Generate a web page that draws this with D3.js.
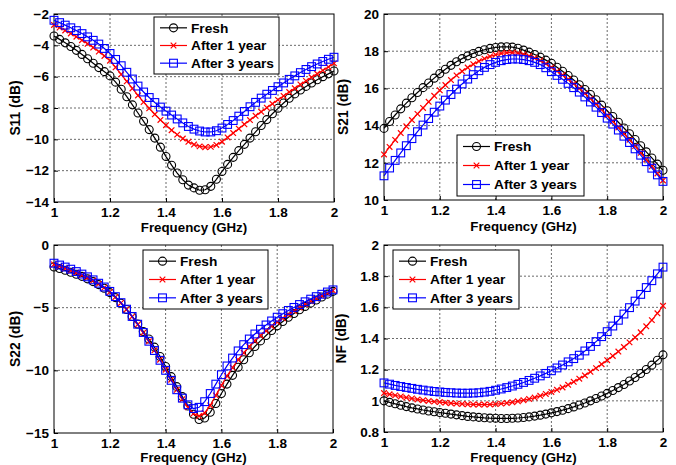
<!DOCTYPE html>
<html>
<head>
<meta charset="utf-8">
<script src="https://cdn.jsdelivr.net/npm/d3@7"></script>
<style>
	body { margin: 0; background: #fff; }
	text { font-family: "Liberation Sans", Arial, sans-serif; font-weight: bold; fill: #000; }
</style>
</head>
<body>
<svg id="fig" width="676" height="465"></svg>
<script>
const freq = [1.00, 1.02, 1.04, 1.06, 1.08, 1.10, 1.12, 1.14, 1.16, 1.18, 1.20, 1.22, 1.24, 1.26, 1.28, 1.30, 1.32, 1.34, 1.36, 1.38,
	1.40, 1.42, 1.44, 1.46, 1.48, 1.50, 1.52, 1.54, 1.56, 1.58, 1.60, 1.62, 1.64, 1.66, 1.68, 1.70, 1.72, 1.74, 1.76, 1.78,
	1.80, 1.82, 1.84, 1.86, 1.88, 1.90, 1.92, 1.94, 1.96, 1.98, 2.00];
const seriesNames = ["Fresh", "After 1 year", "After 3 years"];
const xTicks = [1, 1.2, 1.4, 1.6, 1.8, 2];

// S11 (dB)
const s11Fresh = [-3.40, -3.62, -3.84, -4.07, -4.32, -4.58, -4.86, -5.14, -5.42, -5.68, -5.95, -6.35, -6.80, -7.28, -7.80, -8.32, -8.85, -9.38, -9.92, -10.50,
	-11.10, -11.65, -12.15, -12.58, -12.92, -13.10, -13.25, -13.22, -13.00, -12.55, -12.05, -11.60, -11.15, -10.72, -10.32, -9.92, -9.52, -9.12, -8.74, -8.37,
	-8.02, -7.68, -7.38, -7.10, -6.85, -6.62, -6.40, -6.20, -6.00, -5.82, -5.64];
const s11Year1 = [-2.70, -2.87, -3.05, -3.24, -3.45, -3.67, -3.90, -4.14, -4.40, -4.68, -4.98, -5.40, -5.85, -6.30, -6.75, -7.20, -7.62, -8.02, -8.40, -8.76,
	-9.10, -9.42, -9.70, -9.95, -10.16, -10.33, -10.45, -10.50, -10.48, -10.36, -10.15, -9.88, -9.60, -9.32, -9.04, -8.77, -8.50, -8.24, -7.98, -7.73,
	-7.48, -7.23, -6.98, -6.74, -6.50, -6.27, -6.04, -5.82, -5.60, -5.38, -5.15];
const s11Year3 = [-2.40, -2.55, -2.71, -2.88, -3.06, -3.25, -3.46, -3.68, -3.92, -4.20, -4.52, -4.90, -5.30, -5.72, -6.15, -6.60, -6.98, -7.33, -7.65, -7.94,
	-8.20, -8.45, -8.70, -8.95, -9.18, -9.35, -9.47, -9.53, -9.53, -9.45, -9.28, -9.05, -8.80, -8.52, -8.22, -7.92, -7.64, -7.37, -7.12, -6.88,
	-6.64, -6.40, -6.17, -5.95, -5.74, -5.54, -5.36, -5.19, -5.03, -4.89, -4.76];
const s11Ticks = [-14, -12, -10, -8, -6, -4, -2];

// S21 (dB)
const s21Fresh = [13.85, 14.22, 14.57, 14.90, 15.21, 15.50, 15.78, 16.04, 16.29, 16.55, 16.80, 17.03, 17.24, 17.43, 17.60, 17.75, 17.88, 17.99, 18.08, 18.15,
	18.20, 18.23, 18.24, 18.22, 18.16, 18.06, 17.95, 17.82, 17.68, 17.52, 17.35, 17.14, 16.92, 16.69, 16.45, 16.20, 15.94, 15.67, 15.39, 15.10,
	14.80, 14.49, 14.18, 13.87, 13.56, 13.25, 12.92, 12.59, 12.26, 11.93, 11.60];
const s21Year1 = [12.45, 12.85, 13.23, 13.60, 13.96, 14.30, 14.63, 14.95, 15.28, 15.60, 15.90, 16.18, 16.45, 16.70, 16.92, 17.12, 17.30, 17.46, 17.60, 17.72,
	17.81, 17.88, 17.92, 17.92, 17.89, 17.83, 17.74, 17.63, 17.50, 17.33, 17.13, 16.93, 16.72, 16.49, 16.25, 16.00, 15.73, 15.45, 15.16, 14.86,
	14.55, 14.23, 13.90, 13.57, 13.24, 12.90, 12.54, 12.18, 11.81, 11.43, 11.05];
const s21Year3 = [11.30, 11.72, 12.13, 12.53, 12.92, 13.30, 13.67, 14.03, 14.38, 14.72, 15.05, 15.37, 15.67, 15.96, 16.24, 16.50, 16.74, 16.95, 17.13, 17.28,
	17.40, 17.49, 17.55, 17.58, 17.58, 17.55, 17.49, 17.40, 17.28, 17.11, 16.90, 16.70, 16.49, 16.27, 16.04, 15.80, 15.54, 15.27, 14.99, 14.70,
	14.40, 14.08, 13.76, 13.43, 13.09, 12.75, 12.41, 12.06, 11.71, 11.35, 11.00];
const s21Ticks = [10, 12, 14, 16, 18, 20];

// S22 (dB)
const s22Fresh = [-1.75, -1.88, -2.02, -2.17, -2.33, -2.50, -2.70, -2.92, -3.16, -3.45, -3.80, -4.20, -4.65, -5.15, -5.70, -6.30, -6.90, -7.50, -8.15, -8.90,
	-9.70, -10.50, -11.30, -12.10, -12.85, -13.50, -13.92, -13.80, -13.35, -12.65, -11.85, -11.10, -10.40, -9.75, -9.15, -8.60, -8.10, -7.65, -7.22, -6.82,
	-6.45, -6.10, -5.77, -5.46, -5.17, -4.90, -4.64, -4.39, -4.15, -3.92, -3.70];
const s22Year1 = [-1.55, -1.70, -1.86, -2.03, -2.21, -2.40, -2.61, -2.84, -3.10, -3.40, -3.75, -4.15, -4.62, -5.14, -5.72, -6.35, -7.00, -7.68, -8.40, -9.15,
	-9.95, -10.75, -11.55, -12.30, -12.95, -13.45, -13.65, -13.40, -12.80, -12.00, -11.20, -10.45, -9.78, -9.15, -8.60, -8.10, -7.64, -7.22, -6.84, -6.48,
	-6.15, -5.84, -5.54, -5.26, -4.99, -4.74, -4.50, -4.27, -4.05, -3.84, -3.64];
const s22Year3 = [-1.45, -1.60, -1.76, -1.93, -2.12, -2.32, -2.54, -2.78, -3.05, -3.35, -3.70, -4.12, -4.60, -5.12, -5.70, -6.32, -6.98, -7.68, -8.42, -9.20,
	-10.00, -10.80, -11.55, -12.22, -12.75, -13.05, -12.95, -12.50, -11.85, -11.10, -10.35, -9.65, -9.02, -8.45, -7.95, -7.50, -7.10, -6.72, -6.38, -6.06,
	-5.76, -5.48, -5.22, -4.98, -4.75, -4.53, -4.32, -4.12, -3.93, -3.75, -3.58];
const s22Ticks = [-15, -10, -5, 0];

// NF (dB)
const nfFresh = [1.000, 0.990, 0.981, 0.972, 0.963, 0.955, 0.948, 0.941, 0.935, 0.930, 0.925, 0.920, 0.915, 0.910, 0.905, 0.900, 0.897, 0.894, 0.891, 0.889,
	0.888, 0.887, 0.887, 0.888, 0.890, 0.893, 0.897, 0.902, 0.908, 0.915, 0.923, 0.931, 0.940, 0.950, 0.961, 0.973, 0.986, 1.000, 1.015, 1.031,
	1.048, 1.066, 1.085, 1.105, 1.127, 1.150, 1.175, 1.201, 1.229, 1.260, 1.295];
const nfYear1 = [1.050, 1.042, 1.035, 1.028, 1.021, 1.015, 1.009, 1.004, 0.999, 0.995, 0.992, 0.988, 0.985, 0.982, 0.980, 0.978, 0.977, 0.976, 0.976, 0.977,
	0.979, 0.982, 0.986, 0.991, 0.997, 1.004, 1.012, 1.021, 1.032, 1.044, 1.057, 1.071, 1.086, 1.103, 1.122, 1.142, 1.163, 1.186, 1.210, 1.235,
	1.261, 1.288, 1.316, 1.345, 1.375, 1.407, 1.440, 1.478, 1.518, 1.562, 1.610];
const nfYear3 = [1.115, 1.107, 1.099, 1.092, 1.086, 1.080, 1.074, 1.069, 1.064, 1.060, 1.057, 1.054, 1.052, 1.050, 1.049, 1.049, 1.050, 1.052, 1.056, 1.061,
	1.068, 1.076, 1.085, 1.095, 1.106, 1.118, 1.131, 1.145, 1.160, 1.176, 1.193, 1.211, 1.230, 1.250, 1.271, 1.293, 1.320, 1.349, 1.380, 1.412,
	1.444, 1.480, 1.517, 1.557, 1.598, 1.640, 1.683, 1.727, 1.771, 1.815, 1.858];
const nfTicks = [0.8, 1, 1.2, 1.4, 1.6, 1.8, 2];

const styles = [
	{ color: "#000", marker: "circle" },
	{ color: "#ff0000", marker: "cross" },
	{ color: "#0000ff", marker: "square" },
];

const panels = [
	{ ylabel: "S11 (dB)", series: [s11Fresh, s11Year1, s11Year3], ticks: s11Ticks,
		box: { l: 54, r: 334, t: 14, b: 202 }, ylabelX: 20, xlabelY: 232, legend: { x: 154, y: 17, w: 125, h: 57 } },
	{ ylabel: "S21 (dB)", series: [s21Fresh, s21Year1, s21Year3], ticks: s21Ticks,
		box: { l: 384, r: 663, t: 14, b: 200 }, ylabelX: 348, xlabelY: 231, legend: { x: 457, y: 135, w: 127, h: 61 } },
	{ ylabel: "S22 (dB)", series: [s22Fresh, s22Year1, s22Year3], ticks: s22Ticks,
		box: { l: 54, r: 333, t: 245, b: 433 }, ylabelX: 20, xlabelY: 462, legend: { x: 143, y: 250, w: 125, h: 59 } },
	{ ylabel: "NF (dB)", series: [nfFresh, nfYear1, nfYear3], ticks: nfTicks,
		box: { l: 384, r: 663, t: 245, b: 432 }, ylabelX: 346, xlabelY: 462, legend: { x: 393, y: 250, w: 126, h: 59 } },
];

const svg = d3.select("#fig");

function drawMarker(g, type, x, y, color) {
	if (type === "circle") {
		g.append("circle").attr("cx", x).attr("cy", y).attr("r", 4)
			.attr("fill", "none").attr("stroke", color).attr("stroke-width", 1.1);
	} else if (type === "cross") {
		const s = 2.8;
		g.append("path").attr("d", `M${x - s},${y - s}L${x + s},${y + s}M${x - s},${y + s}L${x + s},${y - s}`)
			.attr("stroke", color).attr("stroke-width", 1.2);
	} else {
		const s = 3.9;
		g.append("rect").attr("x", x - s).attr("y", y - s).attr("width", 2 * s).attr("height", 2 * s)
			.attr("fill", "none").attr("stroke", color).attr("stroke-width", 1.1);
	}
}

panels.forEach(p => {
	const { l, r, t, b } = p.box;
	const x = d3.scaleLinear().domain([1, 2]).range([l, r]);
	const y = d3.scaleLinear().domain(d3.extent(p.ticks)).range([b, t]);
	const g = svg.append("g");

	// grid
	g.append("g").selectAll("line").data(xTicks.slice(1, -1)).join("line")
		.attr("x1", d => x(d)).attr("x2", d => x(d)).attr("y1", t).attr("y2", b)
		.attr("stroke", "#444").attr("stroke-width", 0.8).attr("stroke-dasharray", "2,2");
	g.append("g").selectAll("line").data(p.ticks.slice(1, -1)).join("line")
		.attr("x1", l).attr("x2", r).attr("y1", d => y(d)).attr("y2", d => y(d))
		.attr("stroke", "#444").attr("stroke-width", 0.8).attr("stroke-dasharray", "2,2");

	// axes
	const xa = g.append("g").attr("transform", `translate(0,${b})`)
		.call(d3.axisBottom(x).tickValues(xTicks).tickSize(-4).tickPadding(4).tickFormat(d3.format("~g")));
	const ya = g.append("g").attr("transform", `translate(${l},0)`)
		.call(d3.axisLeft(y).tickValues(p.ticks).tickSize(-4).tickPadding(5).tickFormat(d3.format("~g")));
	[xa, ya].forEach(a => {
		a.select(".domain").remove();
		a.selectAll("text").style("font-size", "13.5px").style("font-family", null);
	});
	xa.selectAll("text").attr("dy", "0.78em");
	g.append("rect").attr("x", l).attr("y", t).attr("width", r - l).attr("height", b - t)
		.attr("fill", "none").attr("stroke", "#000").attr("stroke-width", 1);

	g.append("text").attr("x", (l + r) / 2).attr("y", p.xlabelY).attr("text-anchor", "middle")
		.style("font-size", "13.3px").text("Frequency (GHz)");
	g.append("text").attr("transform", `translate(${p.ylabelX},${(t + b) / 2}) rotate(-90)`)
		.attr("text-anchor", "middle").style("font-size", "13.8px").text(p.ylabel);

	// series
	const plot = g.append("g");
	p.series.forEach((vals, i) => {
		const st = styles[i];
		const line = d3.line().x((d, j) => x(freq[j])).y(d => y(d));
		plot.append("path").datum(vals).attr("d", line)
			.attr("fill", "none").attr("stroke", st.color).attr("stroke-width", 1.2);
		vals.forEach((v, j) => drawMarker(plot, st.marker, x(freq[j]), y(v), st.color));
	});

	// legend
	const lg = g.append("g").attr("transform", `translate(${p.legend.x},${p.legend.y})`);
	lg.append("rect").attr("width", p.legend.w).attr("height", p.legend.h)
		.attr("fill", "#fff").attr("stroke", "#000").attr("stroke-width", 1);
	const rowH = (p.legend.h - 4) / 3;
	seriesNames.forEach((name, i) => {
		const cy = 2 + rowH * (i + 0.5);
		const st = styles[i];
		lg.append("line").attr("x1", 6).attr("x2", 33).attr("y1", cy).attr("y2", cy)
			.attr("stroke", st.color).attr("stroke-width", 1.2);
		drawMarker(lg, st.marker, 19.5, cy, st.color);
		lg.append("text").attr("x", 37).attr("y", cy + 4.8).style("font-size", "13.7px").text(name);
	});
});
</script>
</body>
</html>
